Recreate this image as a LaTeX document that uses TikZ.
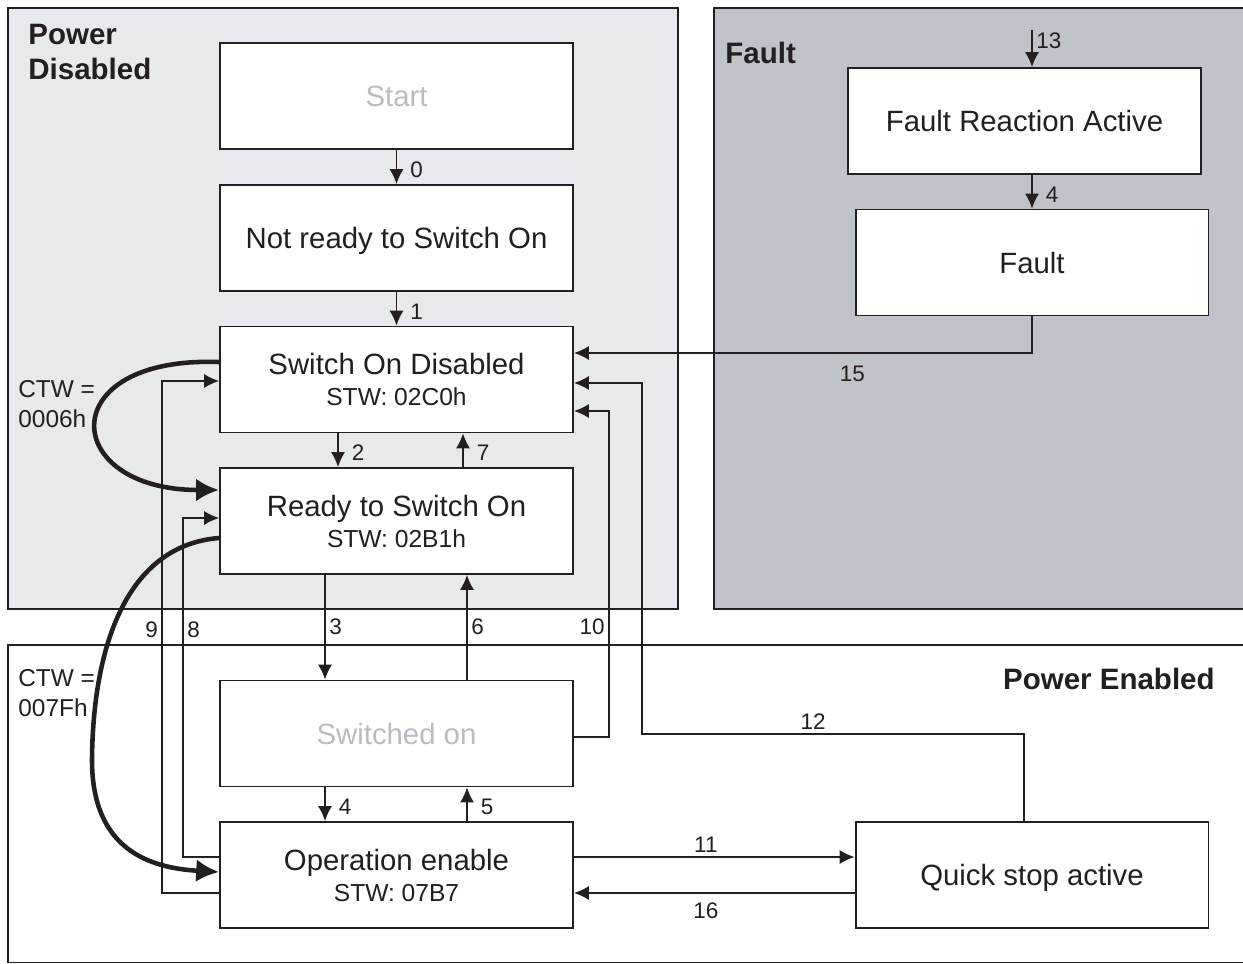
\documentclass[tikz,border=0pt]{standalone}
\usepackage{fontspec}
\setmainfont{Liberation Sans}
\usetikzlibrary{calc}
\usetikzlibrary{arrows.meta}
\definecolor{pdgray}{HTML}{E8E9EC}
\definecolor{fltgray}{HTML}{C1C3CA}
\definecolor{ghostgray}{HTML}{B9BCC3}
\definecolor{ink}{HTML}{231F20}
\newcommand{\boxfont}{\fontsize{16.7}{17.6}\selectfont}
\newcommand{\stwfont}{\fontsize{14}{16}\selectfont}
\newcommand{\numfont}{\fontsize{12.8}{14}\selectfont}
\newcommand{\ctwfont}{\fontsize{13.9}{17}\selectfont}
\newcommand{\headfont}{\bfseries\fontsize{16.8}{19.8}\selectfont}
\tikzset{>={Latex[length=8.5pt,width=8pt]}}
\tikzset{
  state/.style={draw=ink, line width=1.1pt, fill=white, minimum width=7.06cm,
    minimum height=2.12cm, inner sep=0pt, align=center, font=\boxfont,
    text=ink, text depth=0pt},
  ghost/.style={state, text=ghostgray},
  region/.style={draw=ink, line width=1.1pt},
  trans/.style={->, draw=ink, line width=0.85pt},
  ctwarrow/.style={-{Latex[length=13pt,width=13pt]}, draw=ink, line width=2.6pt},
  num/.style={font=\numfont, text=ink, inner sep=2pt},
  lbl/.style={num, right, xshift=5.5pt, yshift=-1.5pt},
  head/.style={font=\headfont, text=ink, align=left, inner sep=0pt},
  ctw/.style={font=\ctwfont, text=ink, align=left, inner sep=0pt},
}
\begin{document}
\begin{tikzpicture}[x=0.02cm, y=-0.02cm]
  \clip (0,0) rectangle (1243,963);

  % regions
  \draw[region, fill=pdgray] (8,8) rectangle (678,609);
  \draw[region, fill=fltgray] (714,8) rectangle (1260,609);
  \draw[region] (8,645) rectangle (1260,962.5);

  \node[head, anchor=north west] (pdis) at (28,24) {Power\\Disabled};
  \node[head, anchor=north west] (pflt) at (725,42) {Fault};
  \node[head, anchor=north east] (pena) at (1215,668) {Power Enabled};

  % states
  \node[ghost] (start)    at (396.5,96)   {Start};
  \node[state] (notready) at (396.5,238)  {Not ready to Switch On};
  \node[state] (sod)      at (396.5,379.5) {Switch On Disabled\\{\stwfont STW: 02C0h}};
  \node[state] (rtso)     at (396.5,521)  {Ready to Switch On\\{\stwfont STW: 02B1h}};
  \node[ghost] (son)      at (396.5,733.5) {Switched on};
  \node[state] (oe)       at (396.5,875)  {Operation enable\\{\stwfont STW: 07B7}};
  \node[state] (fra)      at (1024.5,121) {Fault Reaction Active};
  \node[state] (fault)    at (1032,262.5) {Fault};
  \node[state] (qsa)      at (1032,875)   {Quick stop active};

  % short transitions
  \foreach \from/\to/\dx/\n in {start/notready/0/0, notready/sod/0/1, sod/rtso/-58.5/2,
                                 son/oe/-71.5/4, fra/fault/7.5/4}
    \draw[trans] ($(\from.south)+(\dx,0)$) coordinate (s) -- node[lbl]{\n} (s |- \to.north);
  \foreach \from/\to/\dx/\n in {rtso/sod/66.5/7, oe/son/70.5/5}
    \draw[trans] ($(\from.north)+(\dx,0)$) coordinate (s) -- node[lbl]{\n} (s |- \to.south);

  % long transitions
  \draw[trans] ($(rtso.south)+(-71.5,0)$) coordinate (s) -- node[num,right]{3} (s |- son.north);
  \draw[trans] ($(son.north)+(70.5,0)$) coordinate (s) -- node[num,right]{6} (s |- rtso.south);

  \coordinate (in13) at (1032,30);
  \draw[trans] (in13) -- node[num,right,pos=0.3]{13} (in13 |- fra.north);

  \draw[trans] (fault.south) |- node[num,below=5pt,pos=0.696]{15} ($(sod.east)+(0,-26.5)$);

  \coordinate (k12) at (642,734);
  \draw[trans] ($(qsa.north)+(-8,0)$) |- node[num,above,pos=0.776]{12} (k12)
    |- ($(sod.east)+(0,3.5)$);

  \draw[trans] ($(son.east)+(0,3.5)$) -| node[num,left,pos=0.669]{10} ($(sod.east)+(35,31.5)$)
    -- ($(sod.east)+(0,31.5)$);

  \draw[trans] ($(oe.east)+(0,-18)$) -- node[num,above,pos=0.47]{11} ($(qsa.west)+(0,-18)$);
  \draw[trans] ($(qsa.west)+(0,18)$) -- node[num,below=3pt,pos=0.53]{16} ($(oe.east)+(0,18)$);

  \draw[trans] ($(oe.west)+(0,18)$) -| node[num,left,pos=0.757]{9} ($(sod.west)+(-57,1.5)$)
    -- ($(sod.west)+(0,1.5)$);
  \draw[trans] ($(oe.west)+(0,-18)$) -| node[num,right,pos=0.835]{8} ($(rtso.west)+(-36,-3)$)
    -- ($(rtso.west)+(0,-3)$);

  % control words
  \draw[ctwarrow] ($(sod.west)+(0,-17.5)$) .. controls (52,356) and (60,490) .. ($(rtso.west)+(0,-31)$);
  \draw[ctwarrow] ($(rtso.west)+(0,17)$) .. controls (130,545) and (93,640) .. (92,760)
    .. controls (92,850) and (150,868) .. ($(oe.west)+(0,-3)$);

  \node[ctw, anchor=north west] (ctwa) at (18,380) {CTW =\\0006h};
  \node[ctw, anchor=north west] (ctwb) at (18,669) {CTW =\\007Fh};
\end{tikzpicture}
\end{document}
